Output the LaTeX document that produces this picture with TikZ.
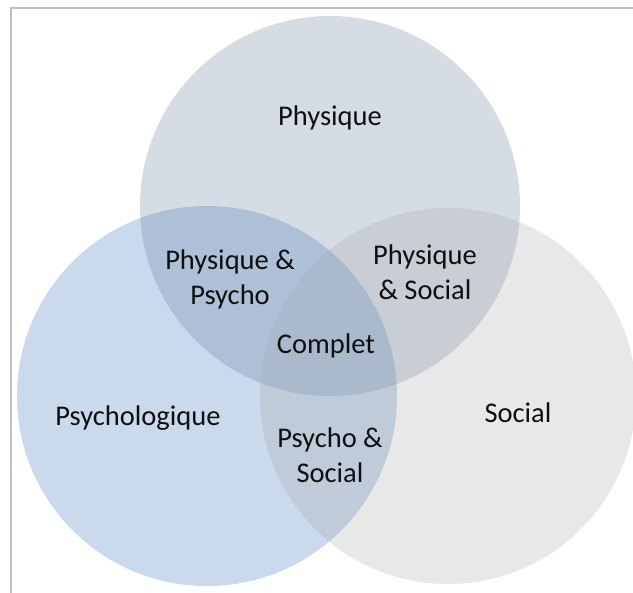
\documentclass[tikz,border=0pt]{standalone}
\usepackage{fontspec}
\setmainfont{Carlito}
\definecolor{physc}{RGB}{132,151,176}
\definecolor{psyc}{RGB}{80,130,190}
\definecolor{socc}{RGB}{165,165,165}
\definecolor{framec}{RGB}{192,192,192}
\definecolor{txtc}{RGB}{15,15,15}
\begin{document}
\begin{tikzpicture}[x=1pt,y=-1pt,
  venn/.style={circle,draw=none,inner sep=0pt},
  lbl/.style={font=\fontsize{28.5}{35}\selectfont,text=txtc,align=center,inner sep=0pt}]
\useasboundingbox (0,0) rectangle (633,593);
\fill[white] (0,0) rectangle (633,593);
\node[venn,minimum size=380pt,fill=physc,fill opacity=0.33] (phys) at (330,206) {};
\node[venn,minimum size=380pt,fill=psyc,fill opacity=0.3] (psy) at (207,396) {};
\node[venn,minimum size=376pt,fill=socc,fill opacity=0.25] (soc) at (448,396) {};
\coordinate (fb) at (11,593);
\coordinate (fc) at (11,8);
\coordinate (fr) at (633,8);
\draw[framec,line width=2pt] (fb) -- (fc) -- (fr);
\node[lbl] (tphys) at (330,118) {Physique};
\node[lbl] (tpp) at (230,279) {Physique \&\\Psycho};
\node[lbl] (tps) at (425,272) {Physique\\\& Social};
\node[lbl] (tcomp) at (326,346) {Complet};
\node[lbl] (tpsy) at (138,418) {Psychologique};
\node[lbl] (tpsoc) at (330,455) {Psycho \&\\Social};
\node[lbl] (tsoc) at (518,413) {Social};
\end{tikzpicture}
\end{document}
